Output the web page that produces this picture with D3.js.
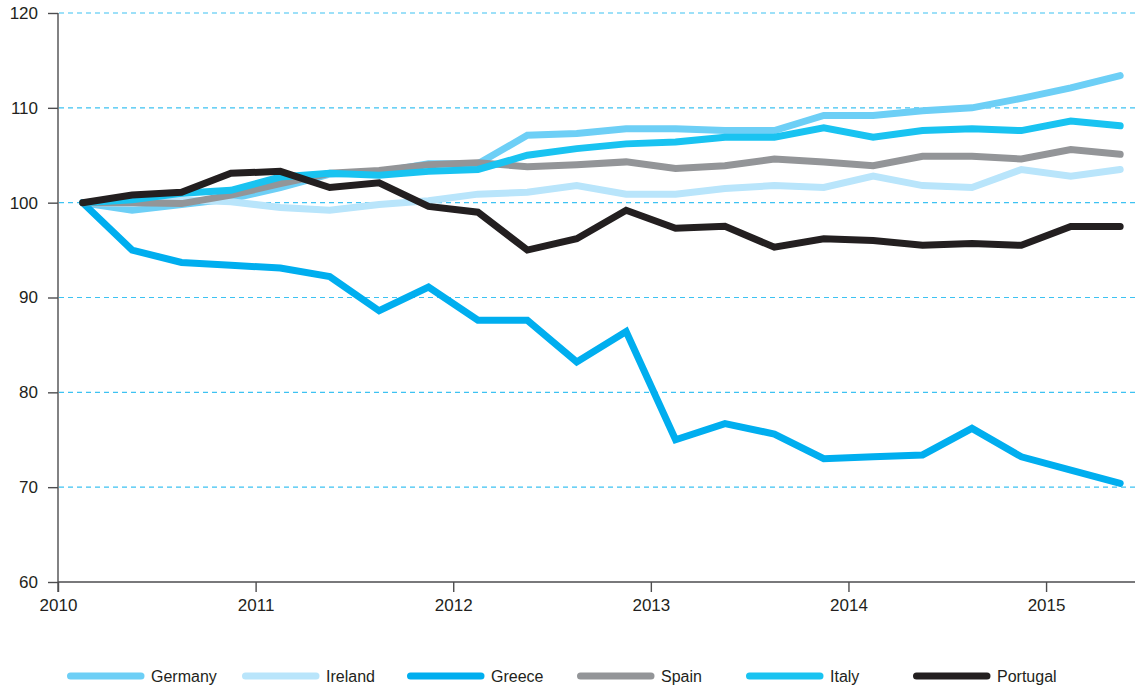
<!DOCTYPE html>
<html>
<head>
<meta charset="utf-8">
<script src="https://cdn.jsdelivr.net/npm/d3@7"></script>
<style>
  body { margin: 0; background: #fff; }
  svg { display: block; font-family: 'Liberation Sans', Arial, Helvetica, sans-serif; }
</style>
</head>
<body>
<svg id="chart" width="1135" height="688"></svg>
<script>
// quarterly mid-points 2010Q1 .. 2015Q2
const years = [2010, 2011, 2012, 2013, 2014, 2015];
const quarters = [];
years.forEach((y)=>{
  [1, 2, 3, 4].forEach((q)=>{
    if (y < 2015 || q <= 2) quarters.push(y + (q - 0.5) / 4);
  });
});

const yTicks = [60, 70, 80, 90, 100, 110, 120];

const germany = [100, 99.2, 99.8, 100.4, 101.6, 103.0, 103.2, 104.1, 104.1, 107.1, 107.3, 107.8, 107.8, 107.6, 107.6, 109.2, 109.2, 109.7, 110.0, 111.0, 112.1, 113.4];
const ireland = [100, 99.9, 100.3, 100.1, 99.5, 99.2, 99.8, 100.2, 100.9, 101.1, 101.8, 100.9, 100.9, 101.5, 101.8, 101.6, 102.8, 101.8, 101.6, 103.5, 102.8, 103.5];
const greece = [100, 95.0, 93.7, 93.4, 93.1, 92.2, 88.6, 91.1, 87.6, 87.6, 83.2, 86.4, 75.0, 76.7, 75.6, 73.0, 73.2, 73.4, 76.2, 73.2, 71.8, 70.4];
const spain = [100, 100.0, 99.9, 100.8, 102.0, 103.1, 103.4, 104.0, 104.2, 103.8, 104.0, 104.3, 103.6, 103.9, 104.6, 104.3, 103.9, 104.9, 104.9, 104.6, 105.6, 105.1];
const italy = [100, 100.3, 101.0, 101.3, 102.7, 103.1, 102.9, 103.3, 103.5, 105.0, 105.7, 106.2, 106.4, 106.9, 106.9, 107.9, 106.9, 107.6, 107.8, 107.6, 108.6, 108.1];
const portugal = [100, 100.8, 101.1, 103.1, 103.3, 101.6, 102.1, 99.6, 99.0, 95.0, 96.2, 99.2, 97.3, 97.5, 95.3, 96.2, 96.0, 95.5, 95.7, 95.5, 97.5, 97.5];

const seriesNames = ['Germany', 'Ireland', 'Greece', 'Spain', 'Italy', 'Portugal'];
const seriesValues = [germany, ireland, greece, spain, italy, portugal];
const seriesColors = ['#6dcff6', '#b9e5fb', '#00aeef', '#939598', '#19c3f1', '#231f20'];

const svg = d3.select('#chart');
const width = 1135;

const x = d3.scaleLinear().domain([2010, 2015.45]).range([58, width]);
const y = d3.scaleLinear().domain([60, 120]).range([582, 13]);

// dashed grid
svg.append('g').selectAll('line')
    .data(yTicks.filter((t)=>t > 60))
    .enter().append('line')
    .attr('x1', x(2010) + 1).attr('x2', width)
    .attr('y1', (d)=>y(d)).attr('y2', (d)=>y(d))
    .style('stroke', '#3dc2f2')
    .style('stroke-width', 1.1)
    .style('stroke-dasharray', '5,4');

// axes
const axisColor = '#4d4d4f';
const yAxis = svg.append('g')
    .attr('transform', `translate(${x(2010)},0)`)
    .call(d3.axisLeft(y).tickValues(yTicks).tickSize(10).tickPadding(10));

const xAxis = svg.append('g')
    .attr('transform', `translate(0,${y(60)})`)
    .call(d3.axisBottom(x).tickValues(years).tickFormat(d3.format('d')).tickSize(10).tickPadding(7));

[yAxis, xAxis].forEach((a)=>{
  a.select('.domain').style('stroke', axisColor).style('stroke-width', 1.4);
  a.selectAll('.tick line').style('stroke', axisColor).style('stroke-width', 1.4);
  a.selectAll('.tick text')
      .style('font-family', '\'Liberation Sans\', Arial, sans-serif')
      .style('font-size', '17px')
      .style('fill', '#231f20');
});
yAxis.select('.domain').attr('d', `M0,${y(120)}V${y(60) + 10}`);
xAxis.select('.domain').attr('d', `M${x(2010)},0H${width}`);

// series lines
const line = d3.line()
    .x((d, i)=>x(quarters[i]))
    .y((d)=>y(d));

svg.append('g').selectAll('path')
    .data(seriesValues)
    .enter().append('path')
    .attr('d', (d)=>line(d))
    .style('fill', 'none')
    .style('stroke', (d, i)=>seriesColors[i])
    .style('stroke-width', 7)
    .style('stroke-linecap', 'round')
    .style('stroke-linejoin', 'miter');

// legend
const legendX = [67, 242, 407, 577, 746, 913];
const legend = svg.append('g').selectAll('g')
    .data(seriesNames)
    .enter().append('g')
    .attr('transform', (d, i)=>`translate(${legendX[i]},676)`);

legend.append('line')
    .attr('x1', 3.5).attr('x2', 74)
    .style('stroke', (d, i)=>seriesColors[i])
    .style('stroke-width', 7)
    .style('stroke-linecap', 'round');

legend.append('text')
    .attr('x', 84)
    .attr('dy', '0.35em')
    .style('font-size', '16px')
    .style('fill', '#231f20')
    .text((d)=>d);
</script>
</body>
</html>
